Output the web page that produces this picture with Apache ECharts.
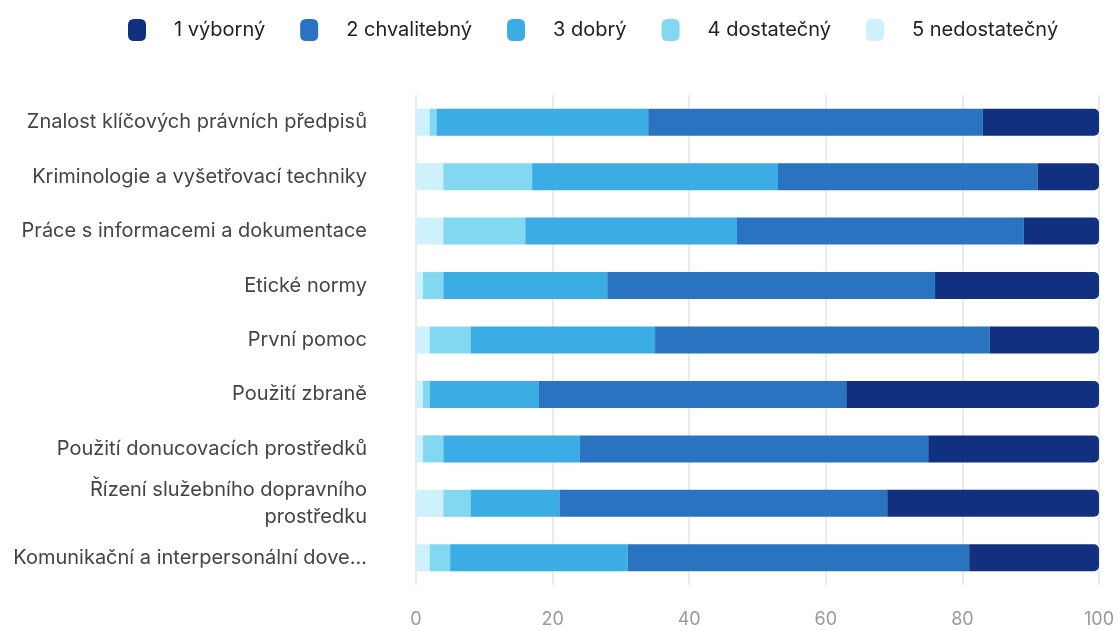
<!DOCTYPE html>
<html>
<head>
<meta charset="utf-8">
<script src="https://cdn.jsdelivr.net/npm/echarts@6/dist/echarts.min.js"></script>
<style>
  html, body { margin: 0; padding: 0; background: #fff; }
  #chart { width: 1117px; height: 630px; }
</style>
</head>
<body>
<div id="chart"></div>
<script>
// categories, top to bottom
var categories = [
  'Znalost klíčových právních předpisů',
  'Kriminologie a vyšetřovací techniky',
  'Práce s informacemi a dokumentace',
  'Etické normy',
  'První pomoc',
  'Použití zbraně',
  'Použití donucovacích prostředků',
  'Řízení služebního dopravního prostředku',
  'Komunikační a interpersonální dovednosti'
]

// percentages per grade
var grade1 = [17, 9, 11, 24, 16, 37, 25, 31, 19]
var grade2 = [49, 38, 42, 48, 49, 45, 51, 48, 50]
var grade3 = [31, 36, 31, 24, 27, 16, 20, 13, 26]
var grade4 = [1, 13, 12, 3, 6, 1, 3, 4, 3]
var grade5 = [2, 4, 4, 1, 2, 1, 1, 4, 2]

var gradeNames = ['1 výborný', '2 chvalitebný', '3 dobrý', '4 dostatečný', '5 nedostatečný']
var gradeColors = ['#11307f', '#2a73c1', '#3badE4', '#82d8f1', '#cff1fb']
var xTicks = [0, 20, 40, 60, 80, 100]

var FONT = 'Inter'
var chart = echarts.init(document.getElementById('chart'))

function mk (i, data) {
  var s = {
    name: gradeNames[i],
    type: 'bar',
    stack: 'total',
    barWidth: 27,
    itemStyle: { color: gradeColors[i] },
    data: data
  }
  if (i === 0) s.itemStyle.borderRadius = [0, 5, 5, 0]
  return s
}

// long names: very long ones get cut, a bit shorter ones wrap
function labelText (v) {
  if (v.length >= 40) return v.slice(0, 34) + '...'
  if (v.length >= 37) {
    var cut = v.lastIndexOf(' ', 30)
    return v.slice(0, cut) + '\n' + v.slice(cut + 1)
  }
  return v
}

chart.setOption({
  textStyle: { fontFamily: FONT },
  legend: {
    top: 14,
    left: 123,
    itemWidth: 18,
    itemHeight: 22,
    itemGap: 35,
    icon: 'path://M6,0 L12,0 Q18,0 18,6 L18,16 Q18,22 12,22 L6,22 Q0,22 0,16 L0,6 Q0,0 6,0 Z',
    textStyle: { fontFamily: FONT, fontSize: 20, color: '#222', padding: [0, 0, 0, 23] },
    data: gradeNames
  },
  grid: { left: 416, right: 16, top: 95, bottom: 45 },
  xAxis: {
    type: 'value',
    min: xTicks[0],
    max: xTicks[xTicks.length - 1],
    interval: 20,
    axisLine: { show: false },
    axisTick: { show: false },
    splitLine: { lineStyle: { color: '#e5e5e5', width: 1.5 } },
    axisLabel: { fontFamily: FONT, color: '#999', fontSize: 18, margin: 26 }
  },
  yAxis: {
    type: 'category',
    inverse: true,
    data: categories,
    axisLine: { show: false },
    axisTick: { show: false },
    axisLabel: {
      fontFamily: FONT,
      color: '#444',
      fontSize: 20,
      margin: 49,
      lineHeight: 27,
      interval: 0,
      formatter: labelText
    }
  },
  series: [
    mk(4, grade5),
    mk(3, grade4),
    mk(2, grade3),
    mk(1, grade2),
    mk(0, grade1)
  ]
})
</script>
</body>
</html>
